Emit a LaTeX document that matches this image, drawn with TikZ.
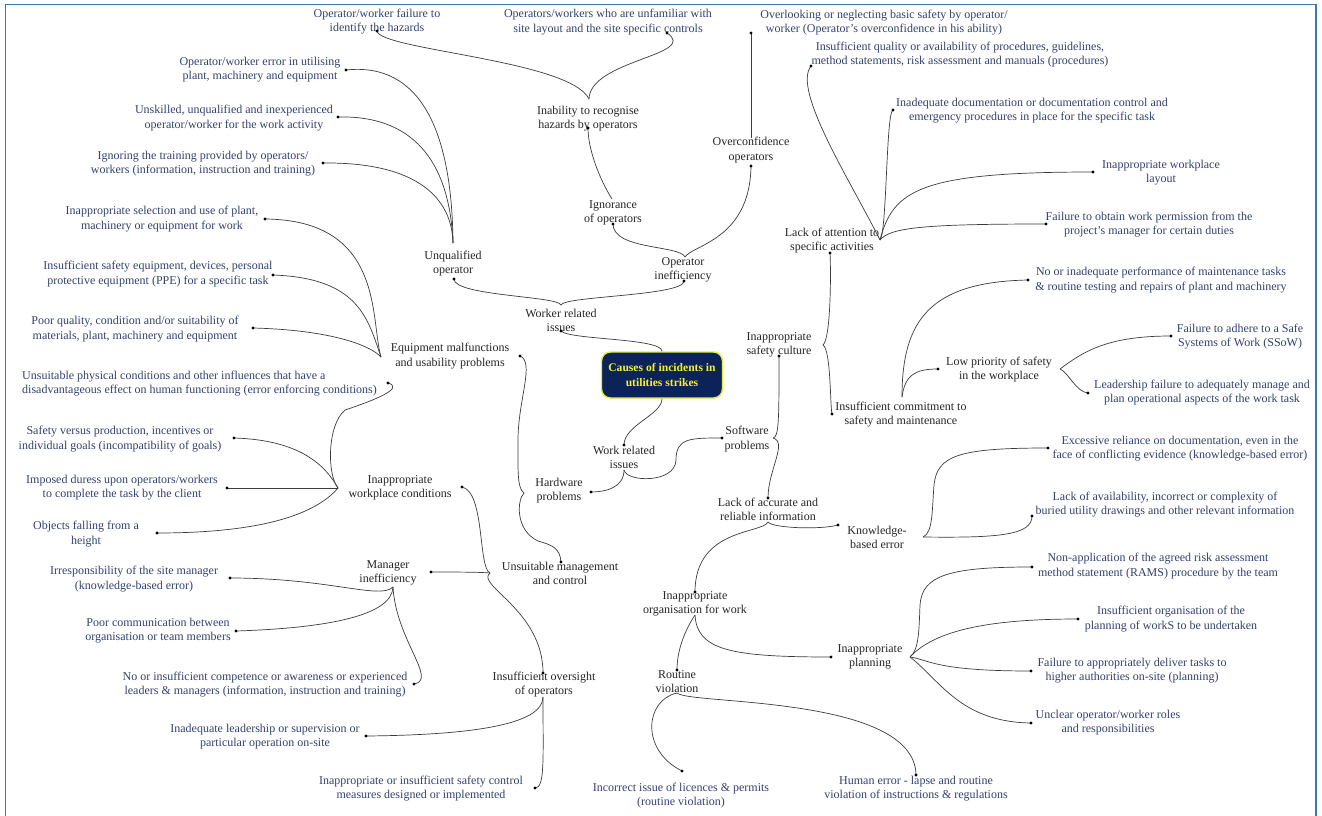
\documentclass[tikz,border=0pt]{standalone}
\usepackage{fontspec}
\setmainfont{Liberation Serif}
\definecolor{leafc}{HTML}{34426E}
\definecolor{midc}{HTML}{262626}
\definecolor{linec}{HTML}{3C3C3C}
\definecolor{framec}{HTML}{3A7CA8}
\definecolor{rootfill}{HTML}{0B2358}
\definecolor{rootdraw}{HTML}{E6EC3A}
\definecolor{roottext}{HTML}{F2F030}
\begin{document}
\begin{tikzpicture}[x=1pt,y=-1pt,
  leaf/.style={font=\fontsize{12}{14.2}\selectfont, text=leafc, align=center, inner sep=0pt},
  mid/.style={font=\fontsize{12}{14.2}\selectfont, text=midc, align=center, inner sep=0pt},
  rootbox/.style={font=\fontsize{11.6}{15.5}\selectfont\bfseries, text=roottext, align=center, fill=rootfill, draw=rootdraw, line width=1.4pt, rounded corners=9pt, minimum width=121pt, minimum height=46pt, inner sep=2pt},
  conn/.style={draw=linec, line width=0.7pt},
  framel/.style={draw=framec, line width=1.8pt}]
\useasboundingbox (0,0) rectangle (1322,816);
\fill[white] (0,0) rectangle (1322,816);
\draw[framel] (5.5,816) -- (5.5,4.5) -- (1316,4.5) -- (1316,816);

% ---------- nodes ----------
\node[rootbox] (root) at (662,375) {Causes of incidents in\\utilities strikes};

\node[mid] (worker) at (561,320) {Worker related\\issues};
\node[mid] (work) at (624,457) {Work related\\issues};
\node[mid] (unqual) at (453,263.5) {Unqualified\\operator};
\node[mid] (opineff) at (683,270) {Operator\\inefficiency};
\node[mid] (ignorance) at (613,212.5) {Ignorance\\of operators};
\node[mid] (inability) at (588,118.5) {Inability to recognise\\hazards by operators};
\node[mid] (overconf) at (751,150) {Overconfidence\\operators};
\node[mid] (equip) at (450,356) {Equipment malfunctions\\and usability problems};
\node[mid] (inappwork) at (400,488) {Inappropriate\\workplace conditions};
\node[mid] (hardware) at (559,491) {Hardware\\problems};
\node[mid] (manager) at (388,573) {Manager\\inefficiency};
\node[mid] (unsuitmgmt) at (560,573.5) {Unsuitable management\\and control};
\node[mid] (oversight) at (544,684.5) {Insufficient oversight\\of operators};
\node[mid] (organisation) at (695,604) {Inappropriate\\organisation for work};
\node[mid] (routine) at (677,681.5) {Routine\\violation};
\node[mid] (planning) at (870,657) {Inappropriate\\planning};
\node[mid] (lackinfo) at (768,509.5) {Lack of accurate and\\reliable information};
\node[mid] (knowledge) at (877,537.5) {Knowledge-\\based error};
\node[mid] (software) at (747,439) {Software\\problems};
\node[mid] (culture) at (779,345) {Inappropriate\\safety culture};
\node[mid] (commit) at (901,414.5) {Insufficient commitment to\\safety and maintenance};
\node[mid] (lowprio) at (999,369.5) {Low priority of safety\\in the workplace};
\node[mid] (attention) at (832,240.5) {Lack of attention to\\specific activities};

\node[leaf] (failid) at (377,21.5) {Operator/worker failure to\\identify the hazards};
\node[leaf] (unfam) at (608,22) {Operators/workers who are unfamiliar with\\site layout and the site specific controls};
\node[leaf] (overlook) at (884,22.5) {Overlooking or neglecting basic safety by operator/\\worker (Operator's overconfidence in his ability)};
\node[leaf] (errutil) at (260,70) {Operator/worker error in utilising\\plant, machinery and equipment};
\node[leaf] (unskilled) at (234,118) {Unskilled, unqualified and inexperienced\\operator/worker for the work activity};
\node[leaf] (ignoring) at (203,164) {Ignoring the training provided by operators/\\workers (information, instruction and training)};
\node[leaf] (selection) at (162,219) {Inappropriate selection and use of plant,\\machinery or equipment for work};
\node[leaf] (ppe) at (158,274) {Insufficient safety equipment, devices, personal\\protective equipment (PPE) for a specific task};
\node[leaf] (poorq) at (135,329) {Poor quality, condition and/or suitability of\\materials, plant, machinery and equipment};
\node[leaf, align=left, anchor=west] (unsuitphys) at (22,383.5) {Unsuitable physical conditions and other influences that have a\\disadvantageous effect on human functioning (error enforcing conditions)};
\node[leaf] (safety) at (120,439) {Safety versus production, incentives or\\individual goals (incompatibility of goals)};
\node[leaf] (duress) at (122,488) {Imposed duress upon operators/workers\\to complete the task by the client};
\node[leaf] (objects) at (86,534) {Objects falling from a\\height};
\node[leaf] (irresp) at (134,579) {Irresponsibility of the site manager\\(knowledge-based error)};
\node[leaf] (poorcomm) at (158,631) {Poor communication between\\organisation or team members};
\node[leaf] (compet) at (265,684.5) {No or insufficient competence or awareness or experienced\\leaders \& managers (information, instruction and training)};
\node[leaf] (inadlead) at (265,737) {Inadequate leadership or supervision or\\particular operation on-site};
\node[leaf] (inappsafety) at (421,788.5) {Inappropriate or insufficient safety control\\measures designed or implemented};
\node[leaf] (incorrect) at (681,795.5) {Incorrect issue of licences \& permits\\(routine violation)};
\node[leaf] (human) at (916,788.5) {Human error - lapse and routine\\violation of instructions \& regulations};
\node[leaf] (quality) at (960,54.5) {Insufficient quality or availability of procedures, guidelines,\\method statements, risk assessment and manuals (procedures)};
\node[leaf] (inaddoc) at (1032,111) {Inadequate documentation or documentation control and\\emergency procedures in place for the specific task};
\node[leaf] (layout) at (1161,172.5) {Inappropriate workplace\\layout};
\node[leaf] (permission) at (1149,224.5) {Failure to obtain work permission from the\\project's manager for certain duties};
\node[leaf] (maint) at (1161,280) {No or inadequate performance of maintenance tasks\\\& routine testing and repairs of plant and machinery};
\node[leaf] (ssow) at (1240,336.5) {Failure to adhere to a Safe\\Systems of Work (SSoW)};
\node[leaf] (leadership) at (1202,392.5) {Leadership failure to adequately manage and\\plan operational aspects of the work task};
\node[leaf] (excessive) at (1180,449) {Excessive reliance on documentation, even in the\\face of conflicting evidence (knowledge-based error)};
\node[leaf] (availability) at (1165,504.5) {Lack of availability, incorrect or complexity of\\buried utility drawings and other relevant information};
\node[leaf] (nonapp) at (1158,566) {Non-application of the agreed risk assessment\\method statement (RAMS) procedure by the team};
\node[leaf] (insorg) at (1171,619) {Insufficient organisation of the\\planning of workS to be undertaken};
\node[leaf] (deliver) at (1132,671) {Failure to appropriately deliver tasks to\\higher authorities on-site (planning)};
\node[leaf] (unclear) at (1108,723) {Unclear operator/worker roles\\and responsibilities};

% ---------- branch points ----------
\coordinate (a-worker) at (561,305);
\coordinate (a-unqual) at (453,243);
\coordinate (a-opineff) at (685,257);
\coordinate (a-ignor) at (612,199);
\coordinate (a-inab) at (589,99);
\coordinate (a-overconf) at (751,138);
\coordinate (a-equip) at (381,357);
\coordinate (a-inappwork) at (338,488);
\coordinate (a-hardware) at (524,493);
\coordinate (a-unsuit) at (490,573);
\coordinate (a-manager) at (393,587);
\coordinate (a-oversight) at (543,697);
\coordinate (a-work) at (624,470);
\coordinate (a-software) at (773,438);
\coordinate (a-culture) at (823,345);
\coordinate (a-attention) at (880,240);
\coordinate (a-commit) at (902,397);
\coordinate (a-lowprio) at (1060,369);
\coordinate (a-lackinfo) at (768,522);
\coordinate (a-knowledge) at (923,537);
\coordinate (a-organisation) at (695,615);
\coordinate (a-routine) at (677,693);
\coordinate (a-planning) at (910,657);

% ---------- dots ----------
\coordinate (d-worker) at (561,331);
\coordinate (d-work) at (624,445);
\coordinate (d-unqual) at (454,279);
\coordinate (d-opineff) at (684,281);
\coordinate (d-ignor) at (613,224);
\coordinate (d-overconf) at (751,166);
\coordinate (d-inab) at (588,128);
\coordinate (d-failid) at (377,31);
\coordinate (d-unfam) at (667,33);
\coordinate (d-overlook) at (751,33);
\coordinate (d-errutil) at (346,70);
\coordinate (d-unskilled) at (338,117);
\coordinate (d-ignoring) at (323,163);
\coordinate (d-selection) at (265,219);
\coordinate (d-ppe) at (273,275);
\coordinate (d-poorq) at (253,328);
\coordinate (d-equip) at (520,356);
\coordinate (d-unsuitphys) at (388,383);
\coordinate (d-safety) at (234,438);
\coordinate (d-duress) at (227,488);
\coordinate (d-objects) at (157,533);
\coordinate (d-inappwork) at (462,487);
\coordinate (d-hardware) at (591,492);
\coordinate (d-software) at (722,438);
\coordinate (d-manager) at (431,572);
\coordinate (d-unsuit) at (561,562);
\coordinate (d-oversight) at (543,673);
\coordinate (d-irresp) at (230,578);
\coordinate (d-poorcomm) at (236,631);
\coordinate (d-compet) at (414,684);
\coordinate (d-inadlead) at (366,736);
\coordinate (d-inappsafety) at (535,788);
\coordinate (d-culture) at (779,356);
\coordinate (d-lackinfo) at (768,498);
\coordinate (d-attention) at (830,253);
\coordinate (d-commit) at (832,414);
\coordinate (d-quality) at (811,66);
\coordinate (d-inaddoc) at (893,110);
\coordinate (d-layout) at (1093,172);
\coordinate (d-permission) at (1046,224);
\coordinate (d-maint) at (1028,280);
\coordinate (d-lowprio) at (938,369);
\coordinate (d-ssow) at (1171,336);
\coordinate (d-leadership) at (1088,393);
\coordinate (d-knowledge) at (838,525);
\coordinate (d-organisation) at (695,592);
\coordinate (d-excessive) at (1048,448);
\coordinate (d-availability) at (1032,516);
\coordinate (d-routine) at (677,670);
\coordinate (d-planning) at (831,657);
\coordinate (d-incorrect) at (682,771);
\coordinate (d-human) at (916,775);
\coordinate (d-nonapp) at (1032,567);
\coordinate (d-insorg) at (1078,619);
\coordinate (d-deliver) at (1031,671);
\coordinate (d-unclear) at (1031,723);

% ---------- connectors ----------
\draw[conn] (root.north) .. controls (662,338) and (570,340) .. (d-worker);
\draw[conn] (root.south) .. controls (662,415) and (624,425) .. (d-work);

\draw[conn] (a-worker) .. controls (558,296) and (454,296) .. (d-unqual);
\draw[conn] (a-worker) .. controls (564,296) and (684,296) .. (d-opineff);

\draw[conn] (a-unqual) .. controls (452,130) and (420,62) .. (d-errutil);
\draw[conn] (a-unqual) .. controls (450,170) and (420,115) .. (d-unskilled);
\draw[conn] (a-unqual) .. controls (452,200) and (420,162) .. (d-ignoring);

\draw[conn] (a-opineff) .. controls (680,245) and (613,250) .. (d-ignor);
\draw[conn] (a-opineff) .. controls (692,245) and (750,240) .. (d-overconf);
\draw[conn] (a-ignor) .. controls (600,180) and (588,150) .. (d-inab);
\draw[conn] (a-inab) .. controls (570,60) and (380,50) .. (d-failid);
\draw[conn] (a-inab) .. controls (590,60) and (700,55) .. (d-unfam);
\draw[conn] (a-overconf) -- (d-overlook);

\draw[conn] (a-equip) .. controls (370,320) and (385,220) .. (d-selection);
\draw[conn] (a-equip) .. controls (368,320) and (360,278) .. (d-ppe);
\draw[conn] (a-equip) .. controls (370,345) and (330,330) .. (d-poorq);

\draw[conn] (a-inappwork) .. controls (327,475) and (327,425) .. (345,410) .. controls (375,400) and (405,388) .. (d-unsuitphys);
\draw[conn] (a-inappwork) .. controls (325,465) and (300,440) .. (d-safety);
\draw[conn] (a-inappwork) -- (d-duress);
\draw[conn] (a-inappwork) .. controls (315,515) and (260,533) .. (d-objects);

\draw[conn] (a-work) .. controls (624,488) and (605,492) .. (d-hardware);
\draw[conn] (a-work) .. controls (626,482) and (675,484) .. (676,460) .. controls (676,438) and (690,438) .. (d-software);

\draw[conn] (a-hardware) .. controls (517,488) and (518,470) .. (518,440) .. controls (518,400) and (535,362) .. (d-equip);
\draw[conn] (a-hardware) .. controls (517,500) and (515,530) .. (538,541) .. controls (552,545) and (560,548) .. (d-unsuit);

\draw[conn] (a-unsuit) .. controls (478,568) and (485,492) .. (d-inappwork);
\draw[conn] (a-unsuit) .. controls (480,572) and (450,572) .. (d-manager);
\draw[conn] (a-unsuit) .. controls (475,585) and (543,610) .. (d-oversight);

\draw[conn] (a-manager) .. controls (380,600) and (330,578) .. (d-irresp);
\draw[conn] (a-manager) .. controls (392,615) and (330,628) .. (d-poorcomm);
\draw[conn] (a-manager) .. controls (396,640) and (438,680) .. (d-compet);

\draw[conn] (a-oversight) .. controls (543,725) and (470,735) .. (d-inadlead);
\draw[conn] (a-oversight) .. controls (543,760) and (545,788) .. (d-inappsafety);

\draw[conn] (a-software) .. controls (779,437) and (779,420) .. (d-culture);
\draw[conn] (a-software) .. controls (788,442) and (768,470) .. (d-lackinfo);

\draw[conn] (a-culture) .. controls (831,338) and (831,270) .. (d-attention);
\draw[conn] (a-culture) .. controls (831,350) and (830,405) .. (d-commit);

\draw[conn] (a-attention) .. controls (850,180) and (792,90) .. (d-quality);
\draw[conn] (a-attention) .. controls (887,232) and (886,112) .. (d-inaddoc);
\draw[conn] (a-attention) .. controls (893,190) and (920,172) .. (d-layout);
\draw[conn] (a-attention) .. controls (890,228) and (920,224) .. (d-permission);

\draw[conn] (a-commit) .. controls (902,320) and (930,282) .. (d-maint);
\draw[conn] (a-commit) .. controls (905,375) and (915,369) .. (d-lowprio);
\draw[conn] (a-lowprio) .. controls (1085,350) and (1110,336) .. (d-ssow);
\draw[conn] (a-lowprio) .. controls (1068,372) and (1076,392) .. (d-leadership);

\draw[conn] (a-lackinfo) .. controls (772,528) and (820,530) .. (d-knowledge);
\draw[conn] (a-lackinfo) .. controls (762,534) and (695,528) .. (d-organisation);

\draw[conn] (a-knowledge) .. controls (933,533) and (932,510) .. (934,485) .. controls (937,455) and (960,448) .. (d-excessive);
\draw[conn] (a-knowledge) .. controls (1000,538) and (1032,535) .. (d-availability);

\draw[conn] (a-organisation) .. controls (685,630) and (677,650) .. (d-routine);
\draw[conn] (a-organisation) .. controls (697,650) and (730,657) .. (d-planning);

\draw[conn] (a-routine) .. controls (645,700) and (640,750) .. (d-incorrect);
\draw[conn] (a-routine) .. controls (690,705) and (915,695) .. (d-human);

\draw[conn] (a-planning) .. controls (919,650) and (919,630) .. (920,605) .. controls (922,575) and (950,567) .. (d-nonapp);
\draw[conn] (a-planning) .. controls (935,630) and (990,619) .. (d-insorg);
\draw[conn] (a-planning) .. controls (930,660) and (935,671) .. (d-deliver);
\draw[conn] (a-planning) .. controls (940,680) and (960,722) .. (d-unclear);

% ---------- dots ----------
\foreach \d in {worker,work,unqual,opineff,ignor,overconf,inab,failid,unfam,overlook,errutil,unskilled,ignoring,selection,ppe,poorq,equip,unsuitphys,safety,duress,objects,inappwork,hardware,software,manager,unsuit,oversight,irresp,poorcomm,compet,inadlead,inappsafety,culture,lackinfo,attention,commit,quality,inaddoc,layout,permission,maint,lowprio,ssow,leadership,knowledge,organisation,excessive,availability,routine,planning,incorrect,human,nonapp,insorg,deliver,unclear}
  \fill[black] (d-\d) circle (1.6pt);
\end{tikzpicture}
\end{document}
